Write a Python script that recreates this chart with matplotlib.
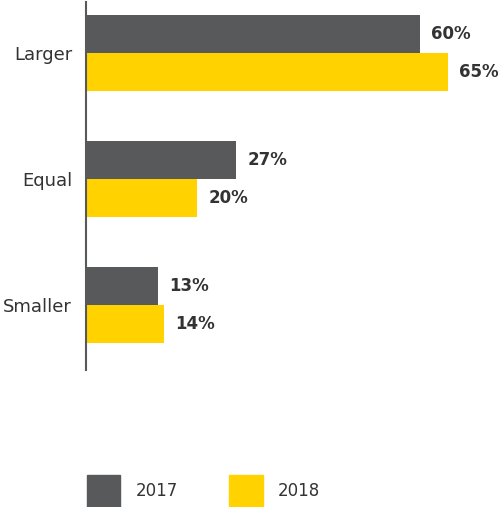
import matplotlib.pyplot as plt
import numpy as np
from matplotlib.patches import Patch

plt.rc('font', family=['DejaVu Sans'], size=12)

categories = ['Larger', 'Equal', 'Smaller']
v2017 = [60, 27, 13]
v2018 = [65, 20, 14]
years = ['2017', '2018']

gray = '#58595b'
yellow = '#ffd200'
txt = '#333333'

fig = plt.figure(figsize=(4.98, 5.07), dpi=100)
ax = fig.add_axes([86/498, 1-370/507, 1-86/498, 368/507])

y = np.arange(len(categories))
h = 0.305
ax.barh(y - h/2, v2017, height=h, color=gray)
ax.barh(y + h/2, v2018, height=h, color=yellow)

for i in range(len(categories)):
    ax.text(v2017[i] + 2, y[i] - h/2, f'{v2017[i]}%', va='center', ha='left',
            fontweight='bold', color=txt)
    ax.text(v2018[i] + 2, y[i] + h/2, f'{v2018[i]}%', va='center', ha='left',
            fontweight='bold', color=txt)

ax.set_xlim(0, 74)
ax.set_ylim(2.516, -0.405)
ax.set_yticks(y)
ax.set_yticklabels(categories, color=txt, va='center_baseline', fontsize=13)
ax.tick_params(axis='y', length=0, pad=10)
ax.set_xticks([])
for s in ['top', 'right', 'bottom']:
    ax.spines[s].set_visible(False)
ax.spines['left'].set_color(gray)
ax.spines['left'].set_linewidth(1.5)

handles = [Patch(color=gray), Patch(color=yellow)]
leg = fig.legend(handles, years, loc='lower left', bbox_to_anchor=(87/498, 0.0),
                 ncol=2, frameon=False, handlelength=2.0, handleheight=2.55,
                 handletextpad=0.9, columnspacing=3.1, borderpad=0,
                 borderaxespad=0)
for t in leg.get_texts():
    t.set_color(txt)

fig.savefig('out.png', dpi=100)
